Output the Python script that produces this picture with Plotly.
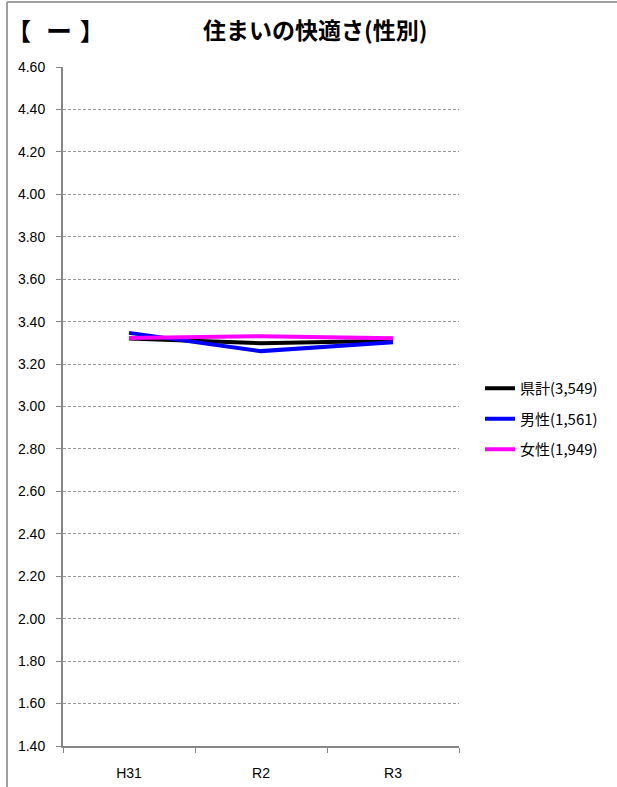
import plotly.graph_objects as go

categories = ["H31", "R2", "R3"]
series_names = ["県計(3,549)", "男性(1,561)", "女性(1,949)"]
kenkei = [3.32, 3.298, 3.31]
male = [3.347, 3.261, 3.303]
female = [3.323, 3.331, 3.322]
colors = ["#000000", "#0000FF", "#FF00FF"]
y_ticks = [1.40 + 0.2 * i for i in range(17)]
y_ticklabels = [f"{v:.2f}" for v in y_ticks]

fig = go.Figure()
for i, (name, vals) in enumerate(zip(series_names, [kenkei, male, female])):
    fig.add_trace(go.Scatter(
        x=categories, y=vals, name=name, mode="lines",
        line=dict(color=colors[i], width=4), legendgroup=f"g{i}",
    ))

W, H = 617, 787
L, R, T, B = 63, 158, 67, 41
pw, ph = W - L - R, H - T - B

def px2x(px):
    return (px - L) / pw

def py2y(py):
    return 1 - (py - T) / ph

tick_font = dict(size=14, family="Liberation Sans, Arial, sans-serif", color="#000")
cjk = "Noto Sans CJK JP, sans-serif"

def ann(text, x, y, xanchor, size):
    return dict(text=text, xref="paper", yref="paper", x=px2x(x), y=py2y(y),
                xanchor=xanchor, yanchor="middle", showarrow=False,
                font=dict(family=cjk, size=size, color="#000"))

fig.update_layout(
    width=W, height=H,
    margin=dict(l=L, r=R, t=T, b=B, autoexpand=False),
    paper_bgcolor="white", plot_bgcolor="white",
    font=dict(family="Liberation Sans, Arial, sans-serif", size=12, color="#000"),
    showlegend=True,
    legend=dict(
        x=px2x(480), y=py2y(372), xanchor="left", yanchor="top",
        font=dict(family=cjk, size=15, color="#000"),
        tracegroupgap=8, bgcolor="rgba(0,0,0,0)", itemwidth=30,
    ),
    xaxis=dict(
        type="category", range=[-0.5, 2.5], showgrid=False,
        showline=True, linecolor="#868686", linewidth=2,
        ticks="outside", tickson="boundaries", ticklen=5, tickcolor="#868686",
        tickfont=tick_font, ticklabelstandoff=13, automargin=False,
        fixedrange=True,
    ),
    yaxis=dict(
        range=[1.40, 4.60], tickvals=y_ticks, ticktext=y_ticklabels,
        showgrid=True, gridcolor="#969696", griddash="3px,2px", gridwidth=1,
        showline=True, linecolor="#868686", linewidth=2,
        ticks="outside", ticklen=5, tickcolor="#868686",
        tickfont=tick_font, ticklabelstandoff=8, automargin=False,
        zeroline=False, fixedrange=True,
    ),
    annotations=[
        ann("<b>住まいの快適さ(性別)</b>", 315, 29.5, "center", 23),
        ann("<b>【</b>", 33, 30, "right", 24),
        ann("<b>ー</b>", 59, 30, "center", 26),
        ann("<b>】</b>", 78, 30, "left", 24),
    ],
    shapes=[
        dict(type="line", xref="paper", yref="paper", x0=px2x(7), x1=px2x(617), y0=py2y(2), y1=py2y(2),
             line=dict(color="#a0a0a0", width=2)),
        dict(type="line", xref="paper", yref="paper", x0=px2x(7), x1=px2x(7), y0=py2y(2), y1=py2y(787),
             line=dict(color="#a0a0a0", width=2)),
    ],
)

fig.write_html("out.html", config={"displayModeBar": False},
               post_script="document.body.style.margin='0';")
